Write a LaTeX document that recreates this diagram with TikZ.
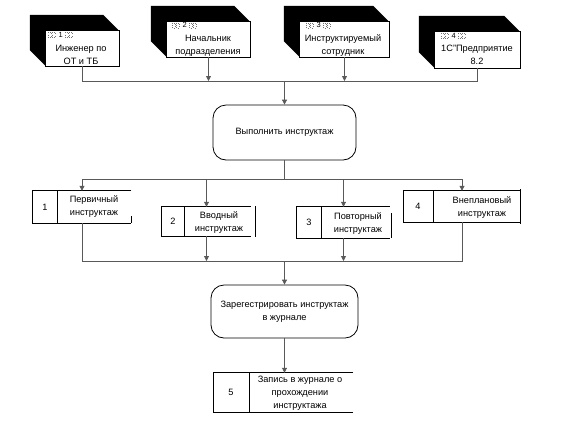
\documentclass[tikz,border=0pt]{standalone}
\usepackage{fontspec}
\setmainfont{Liberation Sans}
\usetikzlibrary{arrows.meta,calc}
\begin{document}
\begin{tikzpicture}[x=1bp,y=-1bp,
  conn/.style={draw=black!65, line width=0.8bp},
  arr/.style={conn, -{Triangle[width=5bp,length=5bp]}},
  txt/.style={font=\fontsize{9.2bp}{13bp}\selectfont, align=center, inner sep=0pt},
  tag/.style={font=\fontsize{7.5bp}{9bp}\selectfont, inner sep=0pt},
  dotbox/.style={draw=black!55, line width=0.35bp, dotted},
  face/.style={inner sep=0pt, draw=none},
  proc/.style={draw=black, line width=0.8bp, rounded corners=13bp, inner sep=0pt},
  rec/.style={inner sep=0pt, draw=none},
  edge/.style={draw=black, line width=0.8bp}
]
\useasboundingbox (0,0) rectangle (567,427);

% ---------- top 3D boxes ----------
\node[face, minimum width=73bp, minimum height=35bp] (t1) at (82.5,48.5) {};
\node[face, minimum width=83bp, minimum height=35bp] (t2) at (208.5,39.5) {};
\node[face, minimum width=89bp, minimum height=35bp] (t3) at (344.5,39.5) {};
\node[face, minimum width=85bp, minimum height=36bp] (t4) at (477.5,50) {};
\foreach \t in {t1,t2,t3,t4}{
  \fill[black] ($(\t.north west)+(-16,-16)$) -- ($(\t.north east)+(-16,-16)$) -- (\t.north east)
     -- (\t.south west) -- ($(\t.south west)+(-16,-16)$) -- cycle;
  \draw[edge, fill=white] (\t.north west) rectangle (\t.south east);
}
\node[tag] (g1) at ($(t1.north west)+(15,4)$) {1};
\node[tag] (g2) at ($(t2.north west)+(18,3.5)$) {2};
\node[tag] (g3) at ($(t3.north west)+(19,3.5)$) {3};
\node[tag] (g4) at ($(t4.north west)+(19,4)$) {4};
\foreach \g in {g1,g2,g3,g4}{
  \foreach \dx in {-12.5,-8.3,4.2,8.4}{
    \draw[dotbox] ($(\g.center)+(\dx,-2.6)$) rectangle ++(2.8,5.2);
  }
}
\node[txt] (l1) at (81,54.5) {Инженер по\\ОТ и ТБ};
\node[txt] (l2) at (208,45.5) {Начальник\\подразделения};
\node[txt] (l3) at (343,45.5) {Инструктируемый\\сотрудник};
\node[txt] (l4) at (477,55) {1С"Предприятие\\8.2};

\coordinate (j1) at (284.5,81);
\draw[conn] (t1.south) -- (t1.south |- j1) -- (t4.south |- j1) -- (t4.south);
\draw[arr] (t2.south) -- (t2.south |- j1);
\draw[arr] (t3.south) -- (t3.south |- j1);

% ---------- process 1 ----------
\node[proc, minimum width=143bp, minimum height=55bp] (p1) at (284.5,132.5) {};
\node[txt] (p1t) at (p1.center) {Выполнить инструктаж};
\draw[arr] (j1) -- (j1 |- p1.north);

% ---------- instruction boxes ----------
\node[rec, minimum width=98bp, minimum height=32bp] (b1) at (82,207) {};
\node[rec, minimum width=89bp, minimum height=29bp] (b2) at (206.5,221.5) {};
\node[rec, minimum width=93bp, minimum height=31bp] (b3) at (343.5,222.5) {};
\node[rec, minimum width=116bp, minimum height=31bp] (b4) at (462,206.5) {};
\foreach \b in {b1,b2,b3,b4}{
  \draw[edge] (\b.north east) -- (\b.north west) -- (\b.south west) -- (\b.south east);
}
% dividers
\draw[edge] (57,191) -- (57,223);
\draw[edge] (184,207) -- (184,236);
\draw[edge] (321,207) -- (321,238);
\draw[edge] (433,191) -- (433,222);
% right edges
\draw[edge] (131,216) -- (131,223);
\draw[edge] (255,206) -- (255,237);
\draw[edge] (391,213) -- (391,238);
\draw[edge] (520,189) -- (520,224);

\node[txt] (n1) at (45,207) {1};
\node[txt] (n2) at (173,221.5) {2};
\node[txt] (n3) at (309,222.5) {3};
\node[txt] (n4) at (418,206.5) {4};
\node[txt] (c1) at (94,206.5) {Первичный\\инструктаж};
\node[txt] (c2) at (219,223) {Вводный\\инструктаж};
\node[txt] (c3) at (358,224) {Повторный\\инструктаж};
\node[txt] (c4) at (482,207.5) {Внеплановый\\инструктаж};

\coordinate (j2) at (284.5,179);
\draw[conn] (p1.south) -- (j2);
\draw[conn] (b1.north |- j2) -- (b4.north |- j2);
\draw[arr] (b1.north |- j2) -- (b1.north);
\draw[arr] (b2.north |- j2) -- (b2.north);
\draw[arr] (b3.north |- j2) -- (b3.north);
\draw[arr] (b4.north |- j2) -- (b4.north);

\coordinate (j3) at (284.5,261);
\draw[conn] (b1.south) -- (b1.south |- j3) -- (b4.south |- j3) -- (b4.south);
\draw[arr] (b2.south) -- (b2.south |- j3);
\draw[arr] (b3.south) -- (b3.south |- j3);

% ---------- process 2 ----------
\node[proc, minimum width=147bp, minimum height=53bp] (p2) at (284.5,311.5) {};
\node[txt] (p2t) at (p2.center) {Зарегестрировать инструктаж\\в журнале};
\draw[arr] (j3) -- (j3 |- p2.north);

% ---------- record box ----------
\node[rec, minimum width=139bp, minimum height=39bp] (b5) at (283.5,392.5) {};
\draw[edge] (b5.north east) -- (b5.north west) -- (b5.south west) -- (b5.south east);
\draw[edge] (249,373) -- (249,412);
\node[txt] (n5) at (231,392.5) {5};
\node[txt] (c5) at (300,393) {Запись в журнале о\\прохождении\\инструктажа};
\draw[arr] (p2.south) -- (p2.south |- b5.north);
\end{tikzpicture}
\end{document}
